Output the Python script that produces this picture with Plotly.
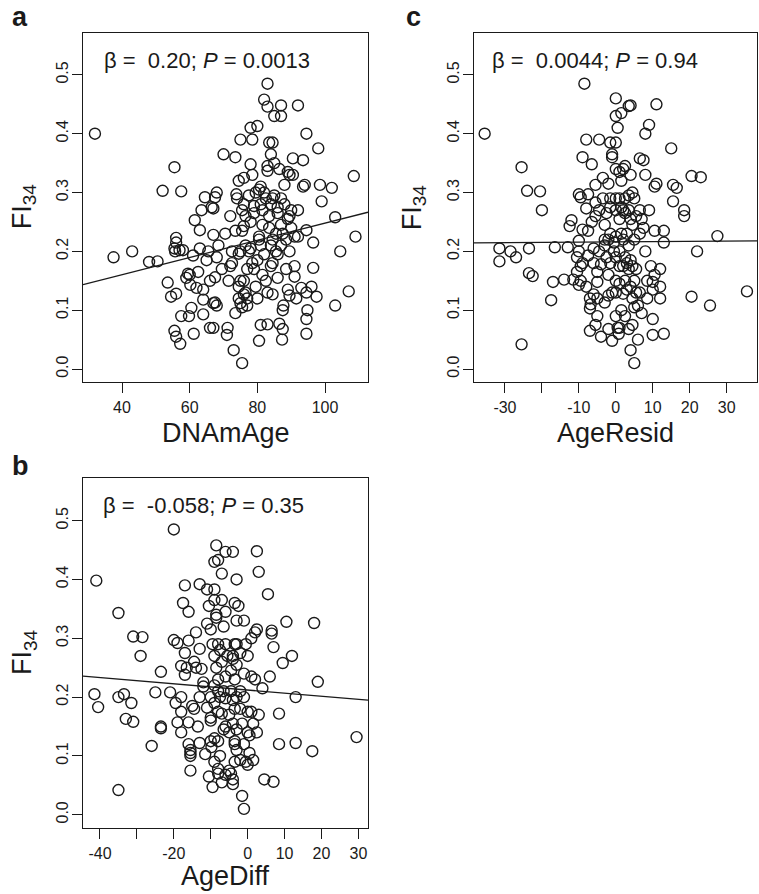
import plotly.graph_objects as go

W, H = 759, 894          # reference picture size (figure fills the whole window)
FONT = "Liberation Sans, Arial, Helvetica, sans-serif"
INK = "#1a1a1a"

# ---------------- data ----------------
# panel a: DNAmAge vs FI34
dnamage = [
    32, 37.5, 43, 48, 50.5, 52, 53.5, 54.5, 55.5, 55.5,
    56, 56, 55.7, 57, 56, 55.5, 56, 57.2, 57.5, 57.5,
    58, 59.5, 59, 60, 60.2, 59.8, 60.5, 61.5, 61, 61.2,
    62, 62.5, 63, 63, 63.5, 64, 64, 64, 64.5, 65.5,
    65, 66, 66, 67, 66.5, 67, 67, 67.5, 67, 67.5,
    68, 68, 67.5, 68.5, 68, 69.5, 70, 70.5, 71, 71.2,
    71.5, 72, 72, 72.5, 72.5, 73, 73.5, 73.5, 73.8, 74,
    73.5, 74.5, 75, 75, 74.5, 74.5, 75, 75, 74.5, 75.5,
    75.5, 75.5, 76, 76.5, 76, 76, 75.5, 76, 76, 76.5,
    77, 76.5, 77, 77, 77.5, 77.5, 78, 78, 78, 78.5,
    78, 78.5, 78.5, 79, 79, 79, 79.5, 79.5, 80, 80,
    80, 80.5, 80.5, 81, 80.5, 81, 80.5, 81, 81, 81.5,
    81.5, 81.5, 82, 82, 82.5, 82, 82.5, 83, 83, 83,
    83, 83, 83, 83.5, 83.5, 83.5, 84.5, 84, 84, 84.5,
    84, 84.5, 84, 84.5, 84.5, 85, 85, 85, 85.5, 85.5,
    86, 86, 86, 86, 86.5, 87, 86.5, 87, 87, 87,
    87.5, 87, 87.5, 87.3, 87.5, 87.7, 88, 88, 88.5, 88.5,
    89, 89.5, 89, 89.5, 89, 89.5, 89.5, 90, 90, 90.5,
    90.5, 91, 91, 91, 91.5, 92, 92, 92, 93, 93.5,
    93.5, 94, 94.5, 94.5, 94.5, 94.8, 94.5, 94.5, 96, 96.5,
    96.5, 97.5, 98, 98.5, 99, 102, 103, 103, 104.5, 107,
    108.5, 109,
]
fi_a = [
    0.40, 0.19, 0.20, 0.182, 0.183, 0.303, 0.147, 0.123, 0.343, 0.205,
    0.215, 0.223, 0.20, 0.202, 0.128, 0.065, 0.055, 0.043, 0.302, 0.09,
    0.202, 0.162, 0.155, 0.16, 0.143, 0.09, 0.104, 0.253, 0.193, 0.06,
    0.138, 0.165, 0.236, 0.205, 0.27, 0.118, 0.135, 0.093, 0.292, 0.2,
    0.185, 0.15, 0.07, 0.07, 0.275, 0.273, 0.228, 0.156, 0.112, 0.113,
    0.108, 0.30, 0.292, 0.21, 0.19, 0.17, 0.365, 0.23, 0.058, 0.07,
    0.15, 0.26, 0.175, 0.18, 0.2, 0.032, 0.095, 0.235, 0.297, 0.29,
    0.36, 0.32, 0.39, 0.2, 0.196, 0.14, 0.15, 0.112, 0.12, 0.105,
    0.01, 0.27, 0.28, 0.26, 0.325, 0.243, 0.235, 0.15, 0.127, 0.13,
    0.12, 0.21, 0.17, 0.108, 0.295, 0.2, 0.205, 0.25, 0.41, 0.39,
    0.348, 0.33, 0.18, 0.17, 0.265, 0.277, 0.3, 0.14, 0.413, 0.185,
    0.12, 0.048, 0.305, 0.31, 0.22, 0.21, 0.225, 0.075, 0.28, 0.27,
    0.16, 0.245, 0.195, 0.3, 0.29, 0.458, 0.15, 0.485, 0.446, 0.345,
    0.337, 0.13, 0.076, 0.24, 0.26, 0.385, 0.385, 0.365, 0.28, 0.29,
    0.21, 0.22, 0.175, 0.18, 0.127, 0.43, 0.35, 0.295, 0.23, 0.2,
    0.195, 0.155, 0.265, 0.275, 0.34, 0.29, 0.077, 0.43, 0.448, 0.245,
    0.23, 0.21, 0.068, 0.05, 0.1, 0.108, 0.28, 0.313, 0.17, 0.22,
    0.335, 0.33, 0.255, 0.26, 0.135, 0.125, 0.2, 0.27, 0.24, 0.358,
    0.33, 0.175, 0.157, 0.225, 0.12, 0.27, 0.448, 0.225, 0.138, 0.355,
    0.31, 0.313, 0.4, 0.236, 0.13, 0.1, 0.085, 0.06, 0.14, 0.215,
    0.172, 0.123, 0.375, 0.313, 0.285, 0.308, 0.258, 0.108, 0.2, 0.132,
    0.328, 0.225,
]

# panel c: AgeResid vs FI34
age_resid = [
    -35.5, -31.5, -31.5, -28.5, -27, -25.5, -25.5, -24, -23.5, -23.5,
    -22.5, -20.5, -20, -17.5, -17, -16.5, -14, -13, -12.5, -12,
    -11.5, -10.5, -10, -9.5, -10, -10, -10, -10.5, -9.5, -9.5,
    -9, -9, -9, -8.5, -8, -8, -8, -7.5, -7.5, -7.5,
    -7, -7, -6.8, -7, -6.5, -6.5, -6, -6, -6, -5.5,
    -5.5, -5.5, -5.5, -5, -5, -5, -5, -4.5, -4.5, -4.5,
    -4, -4, -3.5, -3.5, -3, -3, -3, -3, -2.5, -2.5,
    -2, -2, -2, -2, -2, -1.5, -1, -1, -1.5, -1.5,
    -1.5, -1.5, -1, -1, -0.5, -0.5, 0, 0, 0, 0,
    0, 0, 0, 0, 0, 0, 0, 0.5, 0.5, 0.8,
    1, 1, 1, 1, 1, 1, 1, 1.5, 1.5, 1.5,
    1.5, 1.5, 2, 2, 2, 2, 2, 2.5, 2.5, 2.5,
    2.5, 2.5, 2.5, 3, 3, 3, 3.5, 3.5, 3.5, 3.5,
    3.5, 3.5, 4, 4, 4, 4, 4, 4, 4.5, 4.5,
    4.5, 4.5, 4.5, 5, 5, 5, 5, 5, 5.5, 5.5,
    5.5, 6, 6, 6.5, 6.5, 6.5, 6.5, 7, 7, 7.5,
    7.5, 8, 8, 8, 8.5, 8.5, 9, 9, 9.5, 10,
    10, 10, 10, 10.5, 10.5, 10.5, 11, 11, 12, 12,
    12, 13, 13, 13, 15, 15.5, 15.5, 16.5, 18.5, 18.5,
    20.5, 20.5, 22, 23, 25.5, 27.5, 35.5,
]
fi_c = [
    0.40, 0.205, 0.183, 0.2, 0.19, 0.343, 0.042, 0.303, 0.205, 0.163,
    0.158, 0.302, 0.27, 0.117, 0.148, 0.207, 0.152, 0.207, 0.243, 0.253,
    0.152, 0.165, 0.297, 0.292, 0.218, 0.2, 0.143, 0.19, 0.15, 0.175,
    0.18, 0.36, 0.237, 0.485, 0.39, 0.273, 0.14, 0.297, 0.235, 0.193,
    0.12, 0.103, 0.11, 0.065, 0.348, 0.25, 0.205, 0.18, 0.127, 0.075,
    0.313, 0.283, 0.26, 0.165, 0.148, 0.12, 0.09, 0.39, 0.27, 0.2,
    0.178, 0.055, 0.325, 0.29, 0.245, 0.22, 0.21, 0.113, 0.265, 0.19,
    0.315, 0.22, 0.16, 0.125, 0.068, 0.385, 0.36, 0.365, 0.29, 0.275,
    0.23, 0.18, 0.048, 0.13, 0.2, 0.215, 0.225, 0.46, 0.43, 0.385,
    0.34, 0.29, 0.27, 0.19, 0.15, 0.13, 0.09, 0.41, 0.07, 0.06,
    0.07, 0.335, 0.29, 0.255, 0.2, 0.175, 0.145, 0.435, 0.32, 0.275,
    0.23, 0.1, 0.34, 0.27, 0.22, 0.175, 0.128, 0.345, 0.29, 0.265,
    0.19, 0.15, 0.09, 0.23, 0.18, 0.135, 0.447, 0.295, 0.27, 0.21,
    0.17, 0.068, 0.448, 0.33, 0.255, 0.185, 0.14, 0.032, 0.3, 0.245,
    0.175, 0.12, 0.075, 0.29, 0.22, 0.15, 0.105, 0.01, 0.26, 0.17,
    0.13, 0.05, 0.108, 0.358, 0.27, 0.23, 0.13, 0.095, 0.255, 0.355,
    0.24, 0.4, 0.33, 0.2, 0.15, 0.12, 0.415, 0.27, 0.175, 0.148,
    0.135, 0.085, 0.058, 0.235, 0.31, 0.16, 0.45, 0.315, 0.17, 0.14,
    0.12, 0.235, 0.215, 0.06, 0.375, 0.313, 0.285, 0.308, 0.27, 0.26,
    0.328, 0.123, 0.2, 0.326, 0.108, 0.226, 0.132,
]

# panel b: AgeDiff vs FI34
age_diff = [
    -41.5, -41, -40.5, -35, -35, -35, -33.5, -33, -31.5, -31,
    -31, -28.5, -29, -26, -25, -23.5, -23.5, -23.5, -21, -20,
    -19, -20, -19.5, -19, -18, -18, -18, -18, -17.5, -17,
    -17, -17, -16.5, -16, -16, -16, -16, -15.5, -15.5, -15.5,
    -15.5, -15, -14.5, -14.5, -14, -14, -13.5, -13, -13, -13,
    -13, -12.5, -12, -12, -11.5, -11, -11, -11, -10.5, -10.5,
    -10, -10, -10, -10, -10, -9.8, -9.5, -9.5, -9, -9,
    -9, -9, -9, -9, -9, -9, -8.5, -8.5, -8.5, -8.5,
    -8, -8, -8, -8, -8, -8, -8, -8, -7.5, -7.5,
    -7.5, -7, -7, -7, -7, -7, -6.5, -6.5, -6.5, -6,
    -6, -6, -6, -6, -6, -6, -5.5, -5, -4.5, -5,
    -5, -4.5, -4.5, -4, -4, -4, -4, -4, -4, -4,
    -3.5, -3.5, -3.5, -3.5, -3.5, -3.5, -3.5, -3, -3, -3,
    -3, -3, -3, -3, -2.5, -2, -2, -2, -2, -1.5,
    -1.5, -1, -1, -1, -1, -1, -0.5, -0.5, 0, 0,
    0, 0.5, 0, 0.5, 1, 1, 1, 1.5, 1.5, 2,
    2.5, 2, 2.5, 2.5, 3, 3, 4, 4.5, 5.5, 6,
    6.5, 6.5, 7, 7, 8.5, 8.5, 9.5, 10.5, 12, 13,
    13, 17.5, 18, 19, 29.5,
]
fi_b = [
    0.205, 0.398, 0.183, 0.343, 0.2, 0.042, 0.205, 0.163, 0.19, 0.303,
    0.158, 0.302, 0.27, 0.117, 0.208, 0.243, 0.15, 0.147, 0.208, 0.297,
    0.292, 0.485, 0.19, 0.157, 0.253, 0.2, 0.175, 0.14, 0.36, 0.39,
    0.275, 0.238, 0.25, 0.157, 0.345, 0.296, 0.12, 0.105, 0.11, 0.1,
    0.075, 0.185, 0.18, 0.26, 0.25, 0.31, 0.15, 0.2, 0.392, 0.282,
    0.122, 0.248, 0.218, 0.225, 0.103, 0.325, 0.383, 0.182, 0.065, 0.355,
    0.315, 0.2, 0.16, 0.165, 0.125, 0.115, 0.29, 0.047, 0.43, 0.383,
    0.365, 0.27, 0.22, 0.19, 0.13, 0.09, 0.458, 0.34, 0.335, 0.25,
    0.433, 0.29, 0.23, 0.21, 0.175, 0.125, 0.07, 0.078, 0.28, 0.2,
    0.1, 0.41, 0.365, 0.26, 0.172, 0.055, 0.32, 0.21, 0.145, 0.447,
    0.345, 0.29, 0.235, 0.198, 0.15, 0.068, 0.27, 0.075, 0.07, 0.17,
    0.14, 0.245, 0.21, 0.447, 0.265, 0.27, 0.195, 0.155, 0.06, 0.052,
    0.29, 0.36, 0.23, 0.18, 0.125, 0.12, 0.09, 0.4, 0.33, 0.29,
    0.255, 0.2, 0.145, 0.11, 0.355, 0.275, 0.21, 0.18, 0.093, 0.155,
    0.032, 0.33, 0.24, 0.2, 0.12, 0.01, 0.29, 0.09, 0.27, 0.175,
    0.14, 0.135, 0.085, 0.105, 0.3, 0.235, 0.175, 0.155, 0.093, 0.31,
    0.315, 0.23, 0.448, 0.14, 0.17, 0.413, 0.215, 0.06, 0.375, 0.235,
    0.313, 0.308, 0.285, 0.056, 0.172, 0.12, 0.258, 0.328, 0.27, 0.2,
    0.122, 0.108, 0.326, 0.226, 0.132,
]

# fitted regression lines (intercept, slope)
line_a = (0.1020, 0.00146)
line_b = (0.2120, -0.000528)
line_c = (0.2163, 0.0000443)

stats_a = "β =  0.20; <i>P</i> = 0.0013"
stats_b = "β =  -0.058; <i>P</i> = 0.35"
stats_c = "β =  0.0044; <i>P</i> = 0.94"

y_ticks = [0.0, 0.1, 0.2, 0.3, 0.4, 0.5]
y_ticktext = ["0.0", "0.1", "0.2", "0.3", "0.4", "0.5"]
a_ticks = [40, 60, 80, 100]
a_ticktext = ["40", "60", "80", "100"]
a_unlabeled = []
b_ticks = [-40, -20, 0, 10, 20, 30]
b_ticktext = ["-40", "-20", "0", "10", "20", "30"]
b_unlabeled = [-30, -10]
c_ticks = [-30, -10, 0, 10, 20, 30]
c_ticktext = ["-30", "-10", "0", "10", "20", "30"]
c_unlabeled = [-20]

assert len(dnamage) == len(fi_a)
assert len(age_resid) == len(fi_c)
assert len(age_diff) == len(fi_b)


# ---------------- layout helpers (reference pixel -> paper fraction) ----------------
def fx(p):
    return p / W


def fy(p):
    return 1 - p / H


panels = [
    dict(letter="a", x=dnamage, y=fi_a, xa="x", ya="y", ax="xaxis", ay="yaxis",
         box=(83, 368, 32.5, 382), xr=[28.47, 112.7], ticks=a_ticks, ticktext=a_ticktext,
         minor=a_unlabeled, line=line_a, stats=stats_a, xtitle="DNAmAge",
         letter_pos=(20, 17), stats_pos=(102, 60), xt_y=433, yt_x=24),
    dict(letter="c", x=age_resid, y=fi_c, xa="x2", ya="y2", ax="xaxis2", ay="yaxis2",
         box=(473.7, 757.3, 32.5, 382), xr=[-38.46, 38.3], ticks=c_ticks, ticktext=c_ticktext,
         minor=c_unlabeled, line=line_c, stats=stats_c, xtitle="AgeResid",
         letter_pos=(413, 17), stats_pos=(490, 60), xt_y=433, yt_x=414),
    dict(letter="b", x=age_diff, y=fi_b, xa="x3", ya="y3", ax="xaxis3", ay="yaxis3",
         box=(83, 368, 478.3, 827.7), xr=[-44.6, 32.6], ticks=b_ticks, ticktext=b_ticktext,
         minor=b_unlabeled, line=line_b, stats=stats_b, xtitle="AgeDiff",
         letter_pos=(20, 466), stats_pos=(100.7, 505), xt_y=876, yt_x=24),
]

fig = go.Figure()
annotations = []
layout_axes = {}

for p in panels:
    x0, x1, y0, y1 = p["box"]
    fig.add_trace(go.Scatter(
        x=p["x"], y=p["y"], mode="markers", xaxis=p["xa"], yaxis=p["ya"],
        marker=dict(symbol="circle-open", size=11, color=INK, line=dict(width=1.4, color=INK)),
        showlegend=False, hoverinfo="x+y",
    ))
    b0, b1 = p["line"]
    lx = p["xr"]
    fig.add_trace(go.Scatter(
        x=lx, y=[b0 + b1 * v for v in lx], mode="lines", xaxis=p["xa"], yaxis=p["ya"],
        line=dict(color=INK, width=1.3), showlegend=False, hoverinfo="skip",
    ))
    common = dict(showline=True, mirror=True, linecolor=INK, linewidth=1.3,
                  ticks="outside", ticklen=10, tickwidth=1.2, tickcolor=INK,
                  showgrid=False, zeroline=False,
                  tickfont=dict(family=FONT, size=16, color=INK))
    xaxis = dict(domain=[fx(x0), fx(x1)], range=p["xr"], anchor=p["ya"],
                 tickmode="array", tickvals=p["ticks"], ticktext=p["ticktext"],
                 ticklabelstandoff=1, **common)
    if p["minor"]:
        xaxis["minor"] = dict(tickmode="array", tickvals=p["minor"], ticks="outside",
                              ticklen=10, tickwidth=1.2, tickcolor=INK, showgrid=False)
    layout_axes[p["ax"]] = xaxis
    layout_axes[p["ay"]] = dict(domain=[fy(y1), fy(y0)], range=[-0.022, 0.572], anchor=p["xa"],
                                tickmode="array", tickvals=y_ticks, ticktext=y_ticktext,
                                tickangle=-90, ticklabelstandoff=-3, **common)
    lx_, ly_ = p["letter_pos"]
    annotations.append(dict(text=f"<b>{p['letter']}</b>", x=fx(lx_), y=fy(ly_), xref="paper", yref="paper",
                            xanchor="center", yanchor="middle", showarrow=False,
                            font=dict(family=FONT, size=27, color=INK)))
    sx, sy = p["stats_pos"]
    annotations.append(dict(text=p["stats"], x=fx(sx), y=fy(sy), xref="paper", yref="paper",
                            xanchor="left", yanchor="middle", showarrow=False,
                            font=dict(family=FONT, size=22, color=INK)))
    annotations.append(dict(text=p["xtitle"], x=fx((x0 + x1) / 2), y=fy(p["xt_y"]),
                            xref="paper", yref="paper", xanchor="center", yanchor="middle",
                            showarrow=False, font=dict(family=FONT, size=27, color=INK)))
    annotations.append(dict(text="FI<sub>34</sub>", x=fx(p["yt_x"]), y=fy((y0 + y1) / 2),
                            xref="paper", yref="paper", xanchor="center", yanchor="middle",
                            textangle=-90, showarrow=False,
                            font=dict(family=FONT, size=27, color=INK)))

fig.update_layout(
    width=W, height=H, autosize=False,
    margin=dict(l=0, r=0, t=0, b=0),
    paper_bgcolor="white", plot_bgcolor="white",
    annotations=annotations,
    **layout_axes,
)

# let the figure sit at the page origin (no default body margin, no scrollbars)
fig.write_html(
    "out.html",
    config={"displayModeBar": False},
    post_script="document.body.style.margin='0';document.body.style.overflow='hidden';"
                "document.documentElement.style.overflow='hidden';",
)
